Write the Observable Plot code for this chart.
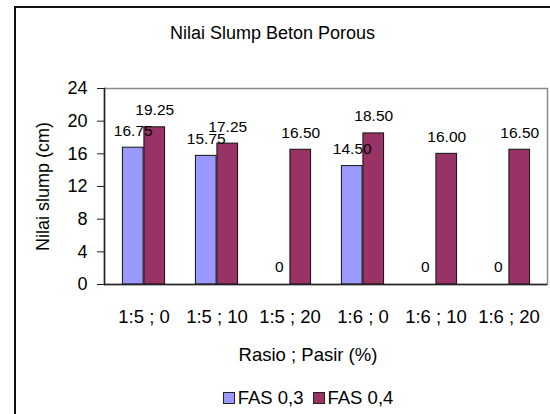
<!DOCTYPE html>
<html>
<head>
<meta charset="utf-8">
<script src="https://cdn.jsdelivr.net/npm/d3@7"></script>
<script src="https://cdn.jsdelivr.net/npm/@observablehq/plot@0.6"></script>
<style>
  html, body { margin: 0; padding: 0; background: #fff; overflow: hidden; }
  #wrap { position: relative; width: 550px; height: 414px; overflow: hidden; font-family: "Liberation Sans", Arial, sans-serif; color: #000; }
  #border { position: absolute; left: 14px; top: 6px; width: 600px; height: 500px; border-left: 2px solid #111; border-top: 2px solid #111; }
  #title { position: absolute; left: 0; width: 545px; top: 22px; line-height: 22px; text-align: center; font-size: 18px; }
  #chart { position: absolute; left: 0; top: 0; }
  #legend { position: absolute; left: 158px; width: 300px; top: 387px; line-height: 22px; font-size: 18.5px; display: flex; justify-content: center; align-items: center; gap: 9px; }
  .item { display: flex; align-items: center; }
  .sw { width: 10px; height: 10px; border: 1px solid #222; margin-right: 3px; }
</style>
</head>
<body>
<div id="wrap">
  <div id="border"></div>
  <div id="title">Nilai Slump Beton Porous</div>
  <div id="chart"></div>
  <div id="legend"></div>
</div>
<script>
const categories = ["1:5 ; 0", "1:5 ; 10", "1:5 ; 20", "1:6 ; 0", "1:6 ; 10", "1:6 ; 20"];
const series = ["FAS 0,3", "FAS 0,4"];
const fas03 = [16.75, 15.75, 0, 14.50, 0, 0];
const fas04 = [19.25, 17.25, 16.50, 18.50, 16.00, 16.50];
const yTicks = [0, 4, 8, 12, 16, 20, 24];
const colors = ["#9999FF", "#993366"];
const xLabel = "Rasio ; Pasir (%)";
const yLabel = "Nilai slump (cm)";

const W = 550, H = 414;
const mL = 104, mR = 3, mT = 88, mB = 130;
const step = (W - mL - mR) / categories.length;
const bw = 21.5;

const rows03 = categories.map((c, i) => ({category: c, series: series[0], value: fas03[i]}));
const rows04 = categories.map((c, i) => ({category: c, series: series[1], value: fas04[i]}));
const fmt = v => v === 0 ? "0" : v.toFixed(2);

const chart = Plot.plot({
  width: W,
  height: H,
  marginLeft: mL,
  marginRight: mR,
  marginTop: mT,
  marginBottom: mB,
  style: {fontFamily: "'Liberation Sans', Arial, sans-serif", fontSize: "18px", background: "transparent", overflow: "visible"},
  x: {domain: categories, padding: 0, axis: null},
  y: {domain: [0, 24], axis: null},
  color: {domain: series, range: colors},
  marks: [
    Plot.frame({stroke: "#8a8a8a", strokeWidth: 1.5}),
    Plot.barY(rows03, {x: "category", y: "value", fill: "series", stroke: "#111", strokeWidth: 1, insetLeft: step / 2 - bw, insetRight: step / 2}),
    Plot.barY(rows04, {x: "category", y: "value", fill: "series", stroke: "#111", strokeWidth: 1, insetLeft: step / 2, insetRight: step / 2 - bw}),
    Plot.text(rows03, {x: "category", y: "value", text: d => fmt(d.value), dx: -bw / 2, dy: -17, fontSize: 15.5}),
    Plot.text(rows04, {x: "category", y: "value", text: d => fmt(d.value), dx: bw / 2, dy: -17, fontSize: 15.5}),
    Plot.ruleY([0], {stroke: "#222", strokeWidth: 1.5}),
    Plot.frame({anchor: "left", stroke: "#222", strokeWidth: 1.5}),
    Plot.axisY({ticks: yTicks, tickSize: 7, tickPadding: 10, fontSize: 18, label: yLabel, labelAnchor: "center", labelArrow: "none", labelOffset: 68, stroke: "#222"}),
    Plot.axisX({tickSize: 0, tickPadding: 25, fontSize: 18.5, label: null}),
    Plot.text([xLabel], {frameAnchor: "bottom", dx: -18, dy: 71, fontSize: 18.5, lineAnchor: "middle"})
  ]
});
document.getElementById("chart").appendChild(chart);

const legend = document.getElementById("legend");
series.forEach((s, i) => {
  const item = document.createElement("div");
  item.className = "item";
  const sw = document.createElement("div");
  sw.className = "sw";
  sw.style.background = colors[i];
  const t = document.createElement("span");
  t.textContent = s;
  item.appendChild(sw);
  item.appendChild(t);
  legend.appendChild(item);
});
</script>
</body>
</html>
